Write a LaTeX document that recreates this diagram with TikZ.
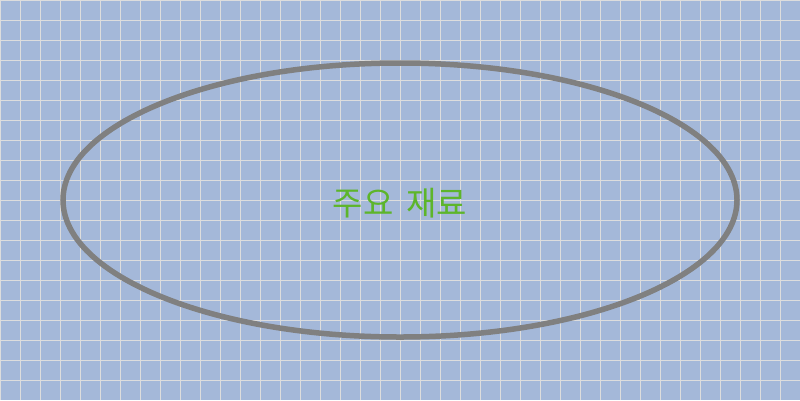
\documentclass[tikz,border=0pt]{standalone}
\usepackage{fontspec}
\newfontfamily\kr{Noto Sans CJK KR}
\definecolor{bgblue}{HTML}{A4B8D9}
\definecolor{gridgray}{HTML}{DDDDDD}
\definecolor{ringgray}{HTML}{808080}
\definecolor{txtgreen}{HTML}{5DB52A}
\tikzset{
  ring/.style={draw=ringgray, line width=5.5bp},
  label/.style={text=txtgreen, font=\kr\fontsize{33bp}{40bp}\selectfont, inner sep=0pt}
}
\begin{document}
\begin{tikzpicture}[x=1bp,y=-1bp]
\fill[bgblue] (0,0) rectangle (800,400);
\useasboundingbox (0,0) rectangle (800,400);
\draw[gridgray, line width=1bp] (0,0) grid[step=20bp] (800,400);
\draw[ring] (400,200) ellipse [x radius=337, y radius=137];
\node[label] (t) at (400,203) {주요\hspace{13bp}재료};
\end{tikzpicture}
\end{document}
